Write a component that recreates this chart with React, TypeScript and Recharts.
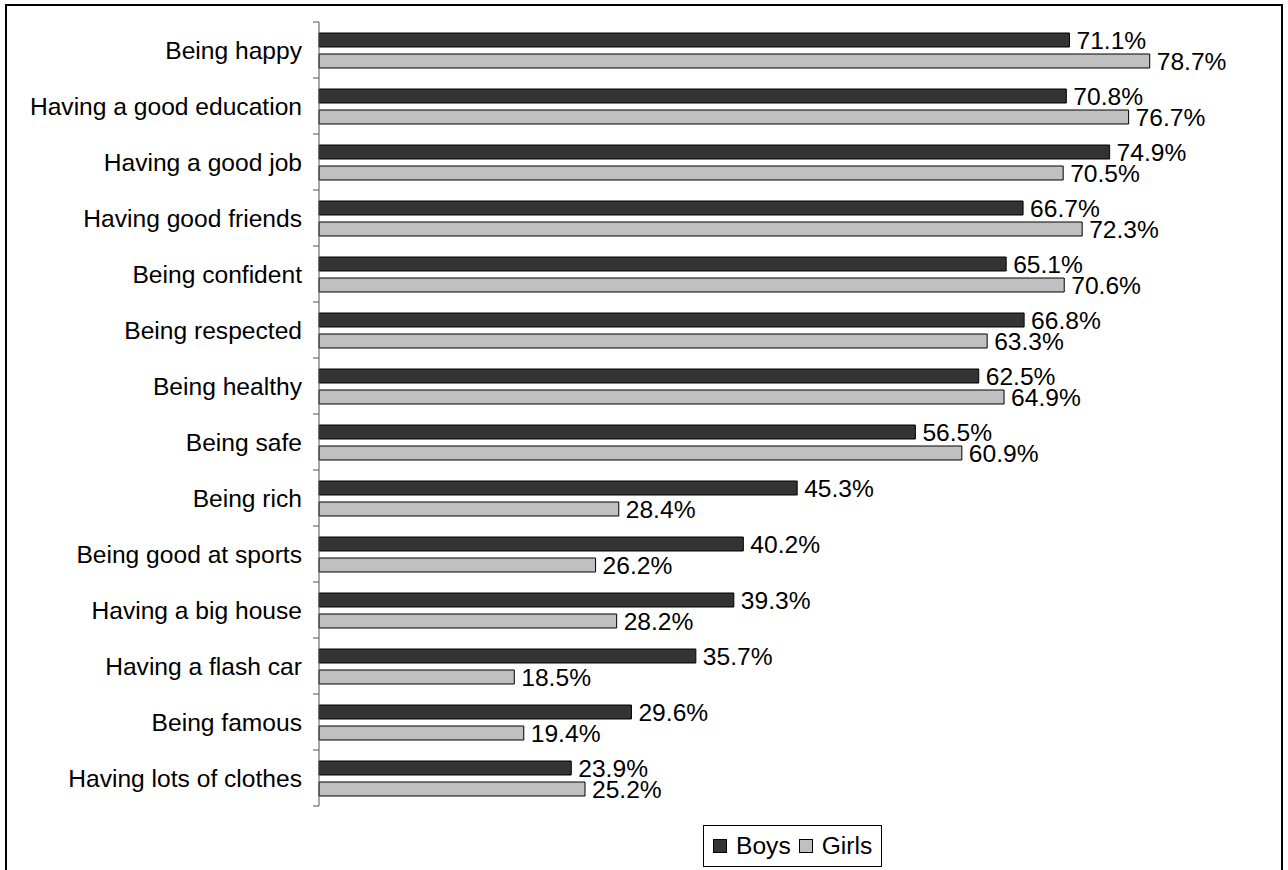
import { BarChart, Bar, XAxis, YAxis, LabelList } from 'recharts';

const categories = [
  'Being happy',
  'Having a good education',
  'Having a good job',
  'Having good friends',
  'Being confident',
  'Being respected',
  'Being healthy',
  'Being safe',
  'Being rich',
  'Being good at sports',
  'Having a big house',
  'Having a flash car',
  'Being famous',
  'Having lots of clothes',
];
const boys = [71.1, 70.8, 74.9, 66.7, 65.1, 66.8, 62.5, 56.5, 45.3, 40.2, 39.3, 35.7, 29.6, 23.9];
const girls = [78.7, 76.7, 70.5, 72.3, 70.6, 63.3, 64.9, 60.9, 28.4, 26.2, 28.2, 18.5, 19.4, 25.2];
const seriesNames = ['Boys', 'Girls'];

const FONT = '"Liberation Sans", Arial, sans-serif';
const AXIS_X = 319;
const TOP = 22;
const BOTTOM = 64;
const H = 870;
const BAND = (H - TOP - BOTTOM) / categories.length;
const DARK = '#333333';
const LIGHT = '#c0c0c0';

const data = categories.map((name, i) => ({ name, boys: boys[i], girls: girls[i] }));

function CategoryTick(props: any) {
  const { y, payload, index } = props;
  const last = index === categories.length - 1;
  return (
    <g>
      <line x1={AXIS_X - 6} x2={AXIS_X} y1={y - BAND / 2} y2={y - BAND / 2} stroke="#555" />
      {last && <line x1={AXIS_X - 6} x2={AXIS_X} y1={y + BAND / 2} y2={y + BAND / 2} stroke="#555" />}
      <text x={AXIS_X - 17} y={y} dy="0.36em" textAnchor="end" fontSize={24.6} fontFamily={FONT} fill="#000">
        {payload.value}
      </text>
    </g>
  );
}

function LegendBox() {
  const colors = [DARK, LIGHT];
  return (
    <div
      style={{
        position: 'absolute', left: 703, top: 825, width: 179, height: 42, boxSizing: 'border-box',
        border: '1px solid #000', background: '#fff', display: 'flex', alignItems: 'center',
        paddingLeft: 9, fontFamily: FONT, fontSize: 24.6, color: '#000',
      }}
    >
      {seriesNames.map((s, i) => (
        <span key={s} style={{ display: 'flex', alignItems: 'center', marginRight: 8 }}>
          <span style={{ width: 14, height: 14, boxSizing: 'border-box', background: colors[i], border: '1px solid #000', marginRight: 9 }} />
          {s}
        </span>
      ))}
    </div>
  );
}

export default function App() {
  const label = { fontSize: 24.6, fontFamily: FONT, fill: '#000' };
  return (
    <div style={{ position: 'absolute', left: 0, top: 0, width: 1288, height: H, overflow: 'hidden', background: '#fff' }}>
      <div style={{ position: 'absolute', left: 5, top: 4, width: 1278, height: 900, boxSizing: 'border-box', border: '2px solid #000' }} />
      <BarChart
        width={1288}
        height={H}
        data={data}
        layout="vertical"
        barSize={14}
        barGap={7}
        margin={{ top: TOP, bottom: BOTTOM, left: 0, right: 19 }}
        style={{ position: 'absolute', left: 0, top: 0 }}
      >
        <XAxis type="number" domain={[0, 90]} hide />
        <YAxis
          type="category"
          dataKey="name"
          width={AXIS_X}
          axisLine={{ stroke: '#555' }}
          tickLine={false}
          tick={<CategoryTick />}
          interval={0}
        />
        <Bar dataKey="boys" name={seriesNames[0]} fill={DARK} stroke="#000" strokeWidth={1} isAnimationActive={false}>
          <LabelList dataKey="boys" position="right" offset={7} formatter={(v: any) => `${v}%`} style={label} />
        </Bar>
        <Bar dataKey="girls" name={seriesNames[1]} fill={LIGHT} stroke="#000" strokeWidth={1} isAnimationActive={false}>
          <LabelList dataKey="girls" position="right" offset={7} formatter={(v: any) => `${v}%`} style={label} />
        </Bar>
      </BarChart>
      <LegendBox />
    </div>
  );
}
